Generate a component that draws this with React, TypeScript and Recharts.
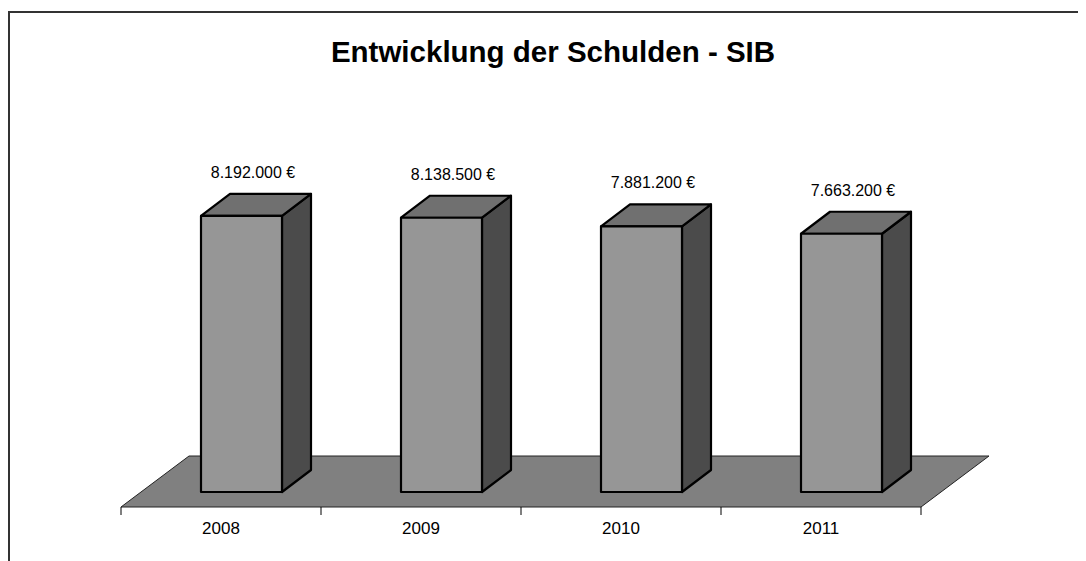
import { BarChart, Bar, XAxis, YAxis, LabelList } from "recharts";
import * as Recharts from "recharts";

const years = ["2008", "2009", "2010", "2011"];
const debts = [8192000, 8138500, 7881200, 7663200];
const data = years.map((year, i) => ({ year, debt: debts[i] }));

const W = 1076;
const H = 548;
const MARGIN = { top: 157, right: 165, bottom: 24, left: 111 };
const X_AXIS_H = 30;
const FONT = "Arial, 'Liberation Sans', sans-serif";

// 3d offsets: bar sits inside the floor, floor has its own depth
const SHIFT_X = 20;
const SHIFT_Y = -15;
const DX = 29;
const DY = -22;
const FLOOR_DX = 68;
const FLOOR_DY = -51;

if (typeof document !== "undefined") {
  document.documentElement.style.overflow = "hidden";
  document.body.style.overflow = "hidden";
}

const fmt = (v: number) => String(v).replace(/\B(?=(\d{3})+(?!\d))/g, ".") + " €";

const Scene = () => {
  const usePlotArea = (Recharts as any).usePlotArea;
  const area = usePlotArea ? usePlotArea() : null;
  const left = area?.x ?? MARGIN.left;
  const width = area?.width ?? W - MARGIN.left - MARGIN.right;
  const bottom = area ? area.y + area.height : H - MARGIN.bottom - X_AXIS_H;
  const right = left + width;
  const pts = [
    [left, bottom],
    [right, bottom],
    [right + FLOOR_DX, bottom + FLOOR_DY],
    [left + FLOOR_DX, bottom + FLOOR_DY],
  ]
    .map((p) => p.join(","))
    .join(" ");
  return (
    <g>
      <text x={543} y={49} textAnchor="middle" fontFamily={FONT} fontWeight="bold" fontSize={29.5} fill="#000">
        Entwicklung der Schulden - SIB
      </text>
      <polygon points={pts} fill="#808080" stroke="#222" strokeWidth={1} />
    </g>
  );
};

const Box = (props: any) => {
  const { x, y, width, height } = props;
  const fx = x + SHIFT_X;
  const fy = y + SHIFT_Y;
  const bot = fy + height;
  const top = `${fx},${fy} ${fx + DX},${fy + DY} ${fx + width + DX},${fy + DY} ${fx + width},${fy}`;
  const side = `${fx + width},${fy} ${fx + width + DX},${fy + DY} ${fx + width + DX},${bot + DY} ${fx + width},${bot}`;
  return (
    <g stroke="#000" strokeWidth={2.2} strokeLinejoin="round">
      <polygon points={side} fill="#4b4b4b" />
      <polygon points={top} fill="#707070" />
      <rect x={fx} y={fy} width={width} height={height} fill="#969696" />
    </g>
  );
};

const ValueLabel = (props: any) => {
  const { x, y, value } = props;
  return (
    <text x={x + 72} y={y - 53} textAnchor="middle" fontFamily={FONT} fontSize={16} fill="#000">
      {fmt(value)}
    </text>
  );
};

const YearTick = (props: any) => {
  const { x, y, payload, index } = props;
  const half = payload?.offset || 100;
  return (
    <g>
      <line x1={x - half} y1={y} x2={x - half} y2={y + 8} stroke="#000" strokeWidth={1} />
      {index === years.length - 1 && (
        <line x1={x + half} y1={y} x2={x + half} y2={y + 8} stroke="#000" strokeWidth={1} />
      )}
      <text x={x} y={y + 27} textAnchor="middle" fontFamily={FONT} fontSize={17} fill="#000">
        {payload.value}
      </text>
    </g>
  );
};

export default function App() {
  return (
    <div style={{ paddingTop: 3 }}>
      <div
        style={{
          width: 1078,
          height: 550,
          borderTop: "2px solid #333",
          borderLeft: "2px solid #333",
          boxSizing: "border-box",
        }}
      >
        <BarChart width={W} height={H} data={data} margin={MARGIN} barSize={81}>
          <Scene />
          <XAxis
            dataKey="year"
            height={X_AXIS_H}
            axisLine={false}
            tickLine={false}
            tickSize={0}
            tickMargin={0}
            tick={<YearTick />}
            interval={0}
          />
          <YAxis hide domain={[0, 10000000]} />
          <Bar dataKey="debt" shape={<Box />} isAnimationActive={false}>
            <LabelList dataKey="debt" content={<ValueLabel />} />
          </Bar>
        </BarChart>
      </div>
    </div>
  );
}
